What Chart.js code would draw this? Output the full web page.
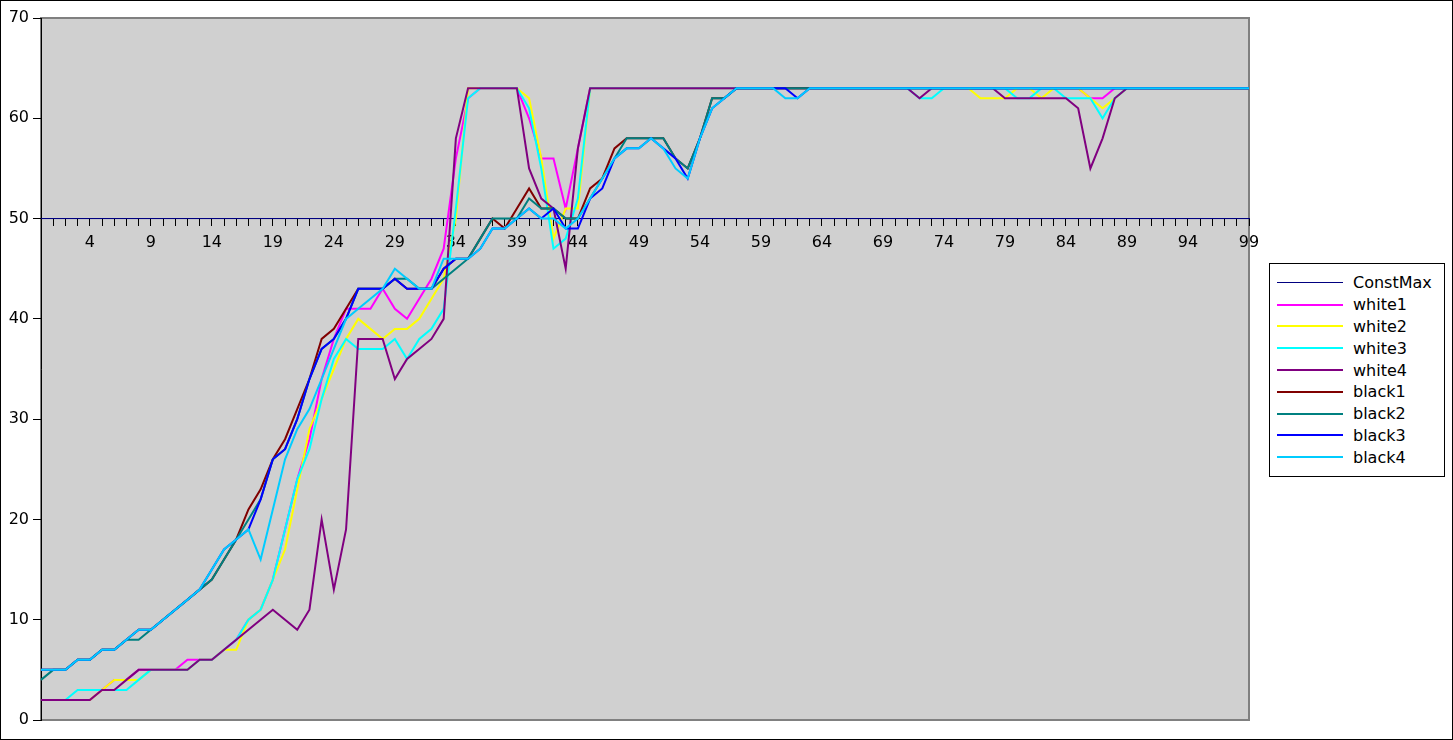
<!DOCTYPE html>
<html>
<head>
<meta charset="utf-8">
<title>ConstMax / white / black</title>
<script src="https://cdn.jsdelivr.net/npm/chart.js@4.4.0/dist/chart.umd.min.js"></script>
<style>
  body { margin: 0; background: #fff; font-family: "DejaVu Sans", sans-serif; }
  #wrap { position: relative; width: 1453px; height: 740px; box-sizing: border-box; border: 1px solid #000; }
  #legend { position: absolute; left: 1268px; top: 262px; width: 176px; height: 214px; box-sizing: border-box;
            border: 1px solid #000; background: #fff; padding: 8px 0 0 7px; }
  .item { height: 21.8px; display: flex; align-items: center; font-size: 16px; color: #000; }
  .swatch { width: 66px; margin-right: 10px; }
</style>
</head>
<body>
<div id="wrap">
  <canvas id="chart"></canvas>
  <div id="legend"></div>
</div>
<script>
// categories are just the run index 0..99
const categories = Array.from({ length: 100 }, (_, i) => String(i));
const shownTicks = [4, 9, 14, 19, 24, 29, 34, 39, 44, 49, 54, 59, 64, 69, 74, 79, 84, 89, 94, 99];
const yTicks = [0, 10, 20, 30, 40, 50, 60, 70];

const constMax = [
  50, 50, 50, 50, 50, 50, 50, 50, 50, 50,
  50, 50, 50, 50, 50, 50, 50, 50, 50, 50,
  50, 50, 50, 50, 50, 50, 50, 50, 50, 50,
  50, 50, 50, 50, 50, 50, 50, 50, 50, 50,
  50, 50, 50, 50, 50, 50, 50, 50, 50, 50,
  50, 50, 50, 50, 50, 50, 50, 50, 50, 50,
  50, 50, 50, 50, 50, 50, 50, 50, 50, 50,
  50, 50, 50, 50, 50, 50, 50, 50, 50, 50,
  50, 50, 50, 50, 50, 50, 50, 50, 50, 50,
  50, 50, 50, 50, 50, 50, 50, 50, 50, 50
];
const white1 = [
  2, 2, 2, 2, 2, 3, 4, 4, 5, 5,
  5, 5, 6, 6, 6, 7, 8, 10, 11, 14,
  19, 24, 28, 34, 38, 41, 41, 41, 43, 41,
  40, 42, 44, 47, 56, 62, 63, 63, 63, 63,
  60, 56, 56, 51, 57, 63, 63, 63, 63, 63,
  63, 63, 63, 63, 63, 63, 63, 63, 63, 63,
  63, 63, 63, 63, 63, 63, 63, 63, 63, 63,
  63, 63, 63, 63, 63, 63, 63, 63, 63, 63,
  63, 63, 63, 63, 63, 63, 62, 62, 63, 63,
  63, 63, 63, 63, 63, 63, 63, 63, 63, 63
];
const white2 = [
  2, 2, 2, 2, 2, 3, 4, 4, 4, 5,
  5, 5, 5, 6, 6, 7, 7, 10, 11, 14,
  17, 23, 29, 32, 35, 38, 40, 39, 38, 39,
  39, 40, 42, 44, 50, 63, 63, 63, 63, 63,
  62, 56, 48, 51, 51, 63, 63, 63, 63, 63,
  63, 63, 63, 63, 63, 63, 63, 63, 63, 63,
  63, 63, 63, 63, 63, 63, 63, 63, 63, 63,
  63, 63, 63, 63, 63, 63, 63, 62, 62, 62,
  63, 63, 62, 63, 63, 63, 62, 61, 62, 63,
  63, 63, 63, 63, 63, 63, 63, 63, 63, 63
];
const white3 = [
  2, 2, 2, 3, 3, 3, 3, 3, 4, 5,
  5, 5, 5, 6, 6, 7, 8, 10, 11, 14,
  19, 24, 27, 32, 36, 38, 37, 37, 37, 38,
  36, 38, 39, 41, 51, 62, 63, 63, 63, 63,
  61, 55, 47, 48, 52, 63, 63, 63, 63, 63,
  63, 63, 63, 63, 63, 63, 63, 63, 63, 63,
  63, 63, 63, 63, 63, 63, 63, 63, 63, 63,
  63, 63, 62, 62, 63, 63, 63, 63, 63, 63,
  62, 62, 63, 63, 62, 62, 62, 60, 62, 63,
  63, 63, 63, 63, 63, 63, 63, 63, 63, 63
];
const white4 = [
  2, 2, 2, 2, 2, 3, 3, 4, 5, 5,
  5, 5, 5, 6, 6, 7, 8, 9, 10, 11,
  10, 9, 11, 20, 13, 19, 38, 38, 38, 34,
  36, 37, 38, 40, 58, 63, 63, 63, 63, 63,
  55, 52, 51, 45, 57, 63, 63, 63, 63, 63,
  63, 63, 63, 63, 63, 63, 63, 63, 63, 63,
  63, 63, 63, 63, 63, 63, 63, 63, 63, 63,
  63, 63, 62, 63, 63, 63, 63, 63, 63, 62,
  62, 62, 62, 62, 62, 61, 55, 58, 62, 63,
  63, 63, 63, 63, 63, 63, 63, 63, 63, 63
];
const black1 = [
  5, 5, 5, 6, 6, 7, 7, 8, 9, 9,
  10, 11, 12, 13, 14, 16, 18, 21, 23, 26,
  28, 31, 34, 38, 39, 41, 43, 43, 43, 44,
  43, 43, 43, 45, 46, 46, 48, 50, 49, 51,
  53, 51, 51, 50, 50, 53, 54, 57, 58, 58,
  58, 58, 56, 55, 58, 62, 62, 63, 63, 63,
  63, 63, 63, 63, 63, 63, 63, 63, 63, 63,
  63, 63, 63, 63, 63, 63, 63, 63, 63, 63,
  63, 63, 63, 63, 63, 63, 63, 63, 63, 63,
  63, 63, 63, 63, 63, 63, 63, 63, 63, 63
];
const black2 = [
  4, 5, 5, 6, 6, 7, 7, 8, 8, 9,
  10, 11, 12, 13, 14, 16, 18, 20, 22, 26,
  27, 30, 34, 37, 38, 40, 43, 43, 43, 44,
  44, 43, 43, 44, 45, 46, 48, 50, 50, 50,
  52, 51, 51, 50, 50, 52, 54, 56, 58, 58,
  58, 58, 56, 55, 58, 62, 62, 63, 63, 63,
  63, 63, 63, 63, 63, 63, 63, 63, 63, 63,
  63, 63, 63, 63, 63, 63, 63, 63, 63, 63,
  63, 63, 63, 63, 63, 63, 63, 63, 63, 63,
  63, 63, 63, 63, 63, 63, 63, 63, 63, 63
];
const black3 = [
  5, 5, 5, 6, 6, 7, 7, 8, 9, 9,
  10, 11, 12, 13, 15, 17, 18, 19, 22, 26,
  27, 30, 34, 37, 38, 40, 43, 43, 43, 44,
  43, 43, 43, 45, 46, 46, 47, 49, 49, 50,
  51, 50, 51, 49, 49, 52, 53, 56, 57, 57,
  58, 57, 56, 54, 58, 61, 62, 63, 63, 63,
  63, 63, 62, 63, 63, 63, 63, 63, 63, 63,
  63, 63, 63, 63, 63, 63, 63, 63, 63, 63,
  63, 63, 63, 63, 63, 63, 63, 63, 63, 63,
  63, 63, 63, 63, 63, 63, 63, 63, 63, 63
];
const black4 = [
  5, 5, 5, 6, 6, 7, 7, 8, 9, 9,
  10, 11, 12, 13, 15, 17, 18, 19, 16, 21,
  26, 29, 31, 34, 37, 40, 41, 42, 43, 45,
  44, 43, 43, 46, 46, 46, 47, 49, 49, 50,
  51, 50, 50, 49, 50, 52, 54, 56, 57, 57,
  58, 57, 55, 54, 58, 61, 62, 63, 63, 63,
  63, 62, 62, 63, 63, 63, 63, 63, 63, 63,
  63, 63, 63, 63, 63, 63, 63, 63, 63, 63,
  63, 63, 63, 63, 63, 63, 63, 63, 63, 63,
  63, 63, 63, 63, 63, 63, 63, 63, 63, 63
];

const series = [
  { label: 'ConstMax', data: constMax, color: '#000080', width: 1 },
  { label: 'white1', data: white1, color: '#ff00ff', width: 2 },
  { label: 'white2', data: white2, color: '#ffff00', width: 2 },
  { label: 'white3', data: white3, color: '#00ffff', width: 2 },
  { label: 'white4', data: white4, color: '#800080', width: 2 },
  { label: 'black1', data: black1, color: '#800000', width: 2 },
  { label: 'black2', data: black2, color: '#008080', width: 2 },
  { label: 'black3', data: black3, color: '#0000ff', width: 2 },
  { label: 'black4', data: black4, color: '#00ccff', width: 2 }
];

const axisFont = { family: 'DejaVu Sans', size: 16 };

// grey wall behind the plot
const plotBackground = {
  id: 'plotBackground',
  beforeDraw(chart) {
    const { ctx, chartArea: a } = chart;
    ctx.save();
    ctx.fillStyle = '#d0d0d0';
    ctx.fillRect(a.left, a.top, a.width, a.height);
    ctx.strokeStyle = '#808080';
    ctx.lineWidth = 2;
    ctx.strokeRect(a.left, a.top, a.width, a.height);
    ctx.restore();
  }
};

const chart = new Chart(document.getElementById('chart'), {
  type: 'line',
  data: {
    labels: categories,
    datasets: series.map((s, i) => ({
      label: s.label,
      data: s.data,
      borderColor: s.color,
      backgroundColor: s.color,
      borderWidth: s.width,
      pointRadius: 0,
      tension: 0,
      fill: false,
      order: series.length - i // later series on top, like the original
    }))
  },
  options: {
    responsive: true,
    maintainAspectRatio: false,
    animation: false,
    layout: { padding: { top: 17, right: 203, bottom: 19, left: 0 } },
    plugins: {
      legend: { display: false },
      tooltip: { enabled: false }
    },
    scales: {
      x: {
        position: { y: 50 },
        offset: false,
        grid: { drawOnChartArea: false, drawTicks: true, tickLength: 7, color: '#000' },
        border: { color: '#000080', width: 1 },
        ticks: {
          autoSkip: false,
          maxRotation: 0,
          padding: 8,
          color: '#000',
          font: axisFont,
          callback: (v, i) => (shownTicks.includes(i) ? categories[i] : '')
        },
        afterFit: (s) => { s.height = 0; }
      },
      y: {
        min: yTicks[0],
        max: yTicks[yTicks.length - 1],
        afterBuildTicks: (s) => { s.ticks = yTicks.map((v) => ({ value: v })); },
        ticks: { padding: 4, color: '#000', font: axisFont },
        grid: { drawOnChartArea: false, tickLength: 8, color: '#000' },
        border: { color: '#000', width: 1 },
        afterFit: (s) => { s.width = 40; }
      }
    }
  },
  plugins: [plotBackground]
});

// legend box on the right
const legend = document.getElementById('legend');
chart.data.datasets.forEach((ds) => {
  const item = document.createElement('div');
  item.className = 'item';
  const sw = document.createElement('span');
  sw.className = 'swatch';
  sw.style.height = ds.borderWidth + 'px';
  sw.style.background = ds.borderColor;
  const txt = document.createElement('span');
  txt.textContent = ds.label;
  item.appendChild(sw);
  item.appendChild(txt);
  legend.appendChild(item);
});
</script>
</body>
</html>
